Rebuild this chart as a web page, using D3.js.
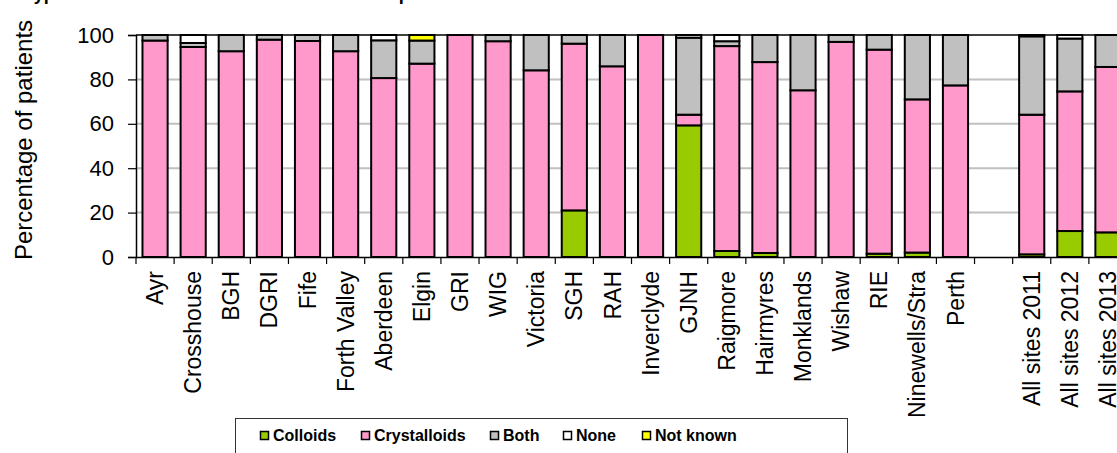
<!DOCTYPE html>
<html><head><meta charset="utf-8">
<script src="https://cdn.jsdelivr.net/npm/d3@7"></script>
<style>body{margin:0;background:#fff;overflow:hidden}svg{display:block}text{font-family:Arial,"Liberation Sans",sans-serif}</style>
</head><body>
<svg id="c" width="1117" height="453"></svg>
<script>
const categories = ["Ayr","Crosshouse","BGH","DGRI","Fife","Forth Valley","Aberdeen","Elgin","GRI","WIG","Victoria","SGH","RAH","Inverclyde","GJNH","Raigmore","Hairmyres","Monklands","Wishaw","RIE","Ninewells/Stra","Perth"," ","All sites 2011","All sites 2012","All sites 2013"];
const colloids     = [0,0,0,0,0,0,0,0,0,0,0,21,0,0,59.3,2.7,1.8,0,0,1.5,2,0,0,1.2,11.7,11.1];
const crystalloids = [97.5,94.6,92.7,97.9,97.3,92.7,80.6,87.1,100,97.2,84.1,75.1,85.9,100,4.8,92.3,86,75.1,96.9,91.9,69,77.3,0,62.9,62.9,74.5];
const both         = [2.5,1.8,7.3,2.1,2.7,7.3,17,10.4,0,2.8,15.9,3.9,14.1,0,34.7,2.2,12.2,24.9,3.1,6.6,29,22.7,0,35.3,23.8,14.4];
const none         = [0,3.6,0,0,0,0,2.4,0,0,0,0,0,0,0,1.2,2.8,0,0,0,0,0,0,0,0.6,1.6,0];
const notKnown     = [0,0,0,0,0,0,0,2.5,0,0,0,0,0,0,0,0,0,0,0,0,0,0,0,0,0,0];
const seriesNames  = ["Colloids","Crystalloids","Both","None","Not known"];
const seriesColors = ["#99cc00","#ff99cc","#c0c0c0","#ffffff","#ffff00"];
const yTicks = [0,20,40,60,80,100];
const titleText = "Type of fluid administered in the immediate post-anaesthetic unit";

(function(){
const seriesVals = [colloids, crystalloids, both, none, notKnown];
const rows = categories.map((c,i)=>{const o={cat:c}; seriesNames.forEach((s,k)=>o[s]=seriesVals[k][i]); return o;});

const svg = d3.select("#c");
const pLeft = 136, pTop = 35, pBottom = 257, pRight = 1127;
const x = d3.scaleBand().domain(categories).range([pLeft,pRight]).paddingInner(0.34).paddingOuter(0.17);
const y = d3.scaleLinear().domain([0,100]).range([pBottom,pTop]);
const step = x.step();

svg.append("text").attr("x",24).attr("y",0).attr("font-size",18).attr("font-weight","bold").text(titleText);

svg.append("g").selectAll("line").data(yTicks.filter(t=>t>0&&t<100)).join("line")
  .attr("x1",pLeft).attr("x2",pRight).attr("y1",d=>y(d)).attr("y2",d=>y(d))
  .attr("stroke","#c0c0c0").attr("stroke-width",2);
svg.append("line").attr("x1",pLeft).attr("x2",pRight).attr("y1",y(100)).attr("y2",y(100)).attr("stroke","#000").attr("stroke-width",1.5);

const stack = d3.stack().keys(seriesNames)(rows);
svg.append("g").selectAll("g").data(stack).join("g")
  .attr("fill",(d,i)=>seriesColors[i])
  .selectAll("rect").data(d=>d.filter(p=>p[1]-p[0]>0)).join("rect")
  .attr("x",d=>x(d.data.cat)).attr("width",x.bandwidth())
  .attr("y",d=>y(d[1])).attr("height",d=>y(d[0])-y(d[1]))
  .attr("stroke","#000").attr("stroke-width",2);

const ya = svg.append("g").attr("transform",`translate(${pLeft},0)`)
  .call(d3.axisLeft(y).tickValues(yTicks).tickSize(8).tickPadding(14));
ya.select(".domain").attr("stroke","#000").attr("stroke-width",1.5);
ya.selectAll(".tick line").attr("stroke","#000").attr("stroke-width",1.2);
ya.selectAll("text").attr("font-size",22).attr("fill","#000").attr("font-family","Arial, Liberation Sans, sans-serif");

const xa = svg.append("g").attr("transform",`translate(0,${pBottom})`)
  .call(d3.axisBottom(x).tickSize(0).tickPadding(0));
xa.select(".domain").attr("stroke","#000").attr("stroke-width",1.5);
xa.selectAll(".tick text").attr("font-size",23).attr("fill","#000")
  .attr("font-family","Arial, Liberation Sans, sans-serif")
  .attr("text-anchor","end").attr("dy","0.35em")
  .attr("transform","translate(0,14) rotate(-90)").attr("y",0).attr("x",0);
svg.append("g").selectAll("line").data(d3.range(categories.length+1)).join("line")
  .attr("x1",i=>x.range()[0]+i*step).attr("x2",i=>x.range()[0]+i*step)
  .attr("y1",pBottom).attr("y2",pBottom+7).attr("stroke","#000").attr("stroke-width",1.2);

svg.append("text").attr("transform","translate(32,140) rotate(-90)").attr("text-anchor","middle")
  .attr("font-size",24).text("Percentage of patients");

const lg = svg.append("g");
lg.append("rect").attr("x",235.5).attr("y",418.5).attr("width",612).attr("height",60).attr("fill","#fff").attr("stroke","#333").attr("stroke-width",1);
const legX = [260,361,490,563,642];
seriesNames.forEach((s,i)=>{
  lg.append("rect").attr("x",legX[i]+0.5).attr("y",431.5).attr("width",8).attr("height",8).attr("fill",seriesColors[i]).attr("stroke","#000").attr("stroke-width",1.5);
  lg.append("text").attr("x",legX[i]+13).attr("y",441).attr("font-size",16).attr("font-weight","bold").text(s);
});
})();
</script>
</body></html>
